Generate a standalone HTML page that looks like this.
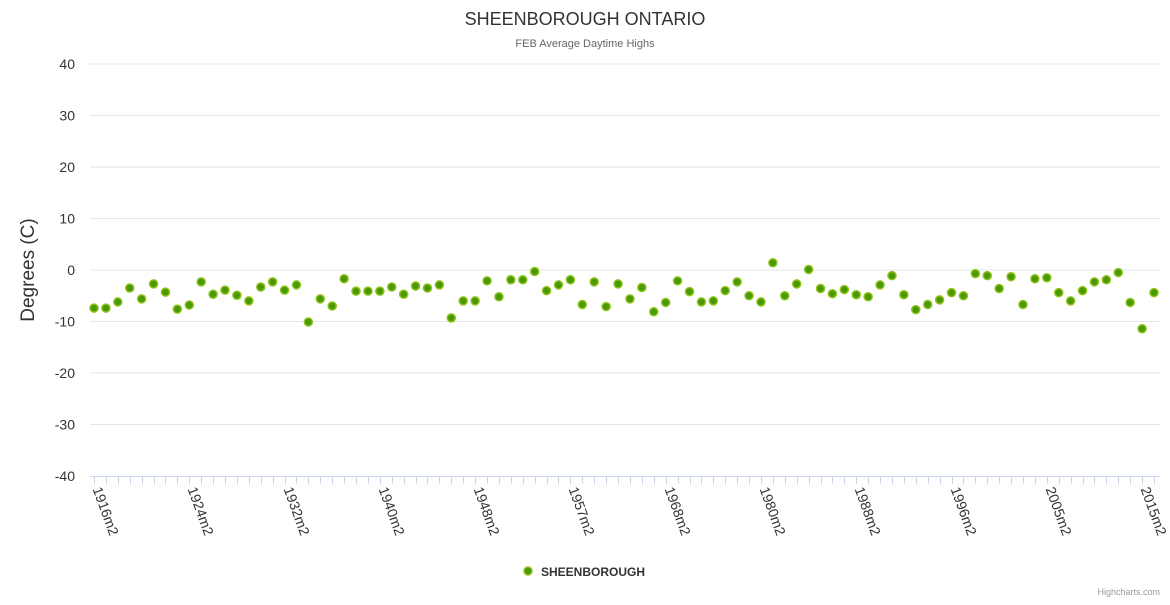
<!DOCTYPE html>
<html><head><meta charset="utf-8"><style>
body{margin:0;background:#fff;font-family:"Liberation Sans",sans-serif;}
svg text{font-family:"Liberation Sans",sans-serif;}
</style></head><body>
<svg id="chart" width="1170" height="600" xmlns="http://www.w3.org/2000/svg">
<text x="585" y="25" text-anchor="middle" font-size="18" fill="#333">SHEENBOROUGH ONTARIO</text>
<text x="585" y="47" text-anchor="middle" font-size="11" fill="#666">FEB Average Daytime Highs</text>
<text transform="translate(34,270) rotate(-90)" text-anchor="middle" font-size="19" fill="#333">Degrees (C)</text>
<g id="grid"></g><g id="xaxis"></g><g id="points"></g>
<g>
<circle cx="528" cy="571" r="4" fill="#4a9900" stroke="#8cc21a" stroke-width="1.5"/>
<text x="541" y="576" font-size="12" font-weight="bold" fill="#333">SHEENBOROUGH</text>
</g>
<text x="1160" y="595" text-anchor="end" font-size="9" fill="#999">Highcharts.com</text>
</svg>
<script>
const categories = [];
const years = [1916,1917,1918,1919,1920,1921,1922,1923,1924,1925,1926,1927,1928,1929,1930,1931,1932,1933,1934,1935,1936,1937,1938,1939,1940,1941,1942,1943,1944,1945,1946,1947,1948,1949,1950,1951,1952,1953,1955,1956,1957,1958,1960,1961,1962,1964,1965,1966,1968,1969,1970,1972,1973,1975,1976,1978,1980,1981,1982,1983,1984,1985,1986,1987,1988,1989,1990,1991,1992,1993,1994,1995,1996,1997,1998,1999,2000,2001,2002,2003,2005,2006,2007,2009,2010,2011,2012,2014,2015,2016];
years.forEach(y=>categories.push(y+"m2"));
const values = [-7.4,-7.4,-6.2,-3.5,-5.6,-2.7,-4.3,-7.6,-6.8,-2.3,-4.7,-3.9,-4.9,-6.0,-3.3,-2.3,-3.9,-2.9,-10.1,-5.6,-7.0,-1.7,-4.1,-4.1,-4.1,-3.3,-4.7,-3.1,-3.5,-2.9,
-9.3,-6.0,-6.0,-2.1,-5.2,-1.9,-1.9,-0.3,-4.0,-2.9,-1.9,-6.7,-2.3,-7.1,-2.7,-5.6,-3.4,-8.1,-6.3,-2.1,-4.2,-6.2,-6.0,-4.0,-2.3,-5.0,-6.2,1.4,-5.0,-2.7,0.1,
-3.6,-4.6,-3.8,-4.8,-5.2,-2.9,-1.1,-4.8,-7.7,-6.7,-5.8,-4.4,-5.0,-0.7,-1.1,-3.6,-1.3,-6.7,-1.7,-1.5,-4.4,-6.0,-4.0,-2.3,-1.9,-0.5,-6.3,-11.4,-4.4];
const yTicks = [40,30,20,10,0,-10,-20,-30,-40];
const NS="http://www.w3.org/2000/svg";
const yScale = v => 270 - v*5.15;
const xScale = i => 94 + i*(1154-94)/(categories.length-1);
function mk(t,a,p){const e=document.createElementNS(NS,t);for(const k in a)e.setAttribute(k,a[k]);p.appendChild(e);return e;}
const grid=document.getElementById('grid');
yTicks.forEach(v=>{
  if(v!==-40){const l=mk('line',{x1:90,x2:1160,y1:yScale(v),y2:yScale(v),stroke:'#e6e6e6'},grid);
  
  }
  const t=mk('text',{x:75,y:yScale(v)+5,'text-anchor':'end','font-size':14,fill:'#333'},grid);
  
  
  t.textContent=v;
});
const xa=document.getElementById('xaxis');
const al=mk('line',{x1:90,x2:1160,y1:476.5,y2:476.5,stroke:'#ccd6eb'},xa);


categories.forEach((c,i)=>{
  const x=Math.round(xScale(i))+0.5;
  const tk=mk('line',{x1:x,x2:x,y1:476,y2:484,stroke:'#ccd6eb'},xa);
  
  
  if(i%8===0){
    const t=mk('text',{transform:`translate(${x-2},${489}) rotate(70)`,'font-size':14,fill:'#333'},xa);
    
    
    t.textContent=c;
  }
});
const pts=document.getElementById('points');
values.forEach((v,i)=>{
  const c=mk('circle',{cx:xScale(i),cy:yScale(v),r:4,fill:'#4a9900',stroke:'#8cc21a','stroke-width':1.5},pts);
  
  
});
</script>
</body></html>
